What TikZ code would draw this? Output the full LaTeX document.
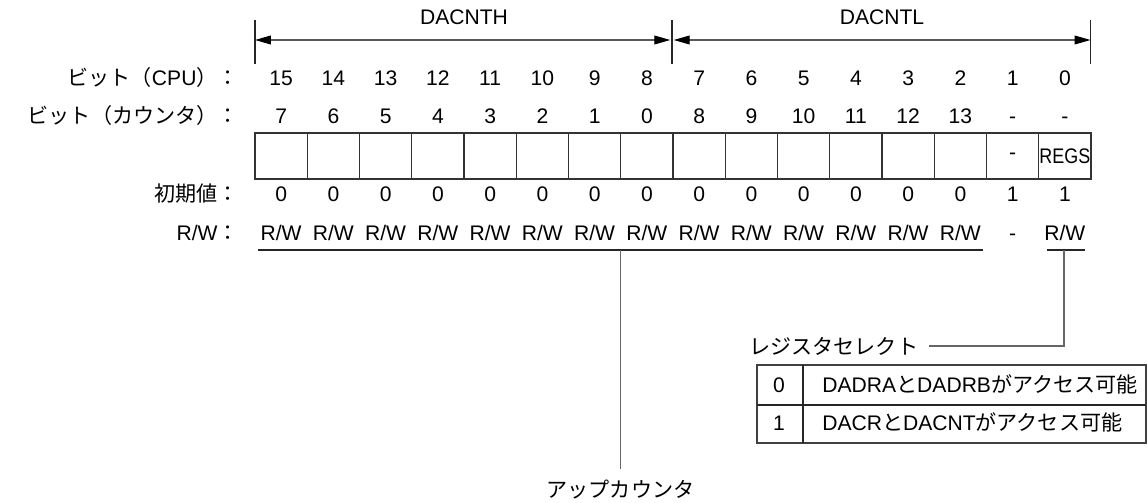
\documentclass[tikz,border=0pt]{standalone}
\usepackage{graphicx}
\usepackage{fontspec}
\setmainfont{Liberation Sans}
\newfontfamily\jpfont{Noto Sans CJK JP}
\usetikzlibrary{arrows.meta}

\begin{document}
\begin{tikzpicture}[
    x=0.02cm, y=-0.02cm,
    txt/.style={font=\fontsize{12}{14}\selectfont, inner sep=0pt, anchor=base},
    lbl/.style={txt, anchor=base east},
    cellbox/.style={draw=black!80, line width=0.6pt, minimum width=1.045cm, minimum height=0.92cm, inner sep=0pt},
    dimarr/.style={{Triangle[length=9pt,width=5pt,color=black]}-{Triangle[length=9pt,width=5pt,color=black]}, draw=black!65, line width=0.6pt},
    tickline/.style={draw=black!85, line width=0.6pt},
    uline/.style={draw=black!85, line width=0.6pt},
    leader/.style={draw=black!60, line width=0.6pt},
    tabframe/.style={draw=black!75, line width=0.9pt},
    tabline/.style={draw=black!85, line width=0.6pt},
]
\useasboundingbox (0,0) rectangle (1147,503);

% ============ register names with their spans ============
\coordinate (hl) at (255,40);
\coordinate (hm) at (672,40);
\coordinate (hr) at (1090.5,40);

\draw[tickline] (255,20) -- (255,64);
\draw[tickline] (672,20) -- (672,64);
\draw[tickline] (1090.5,20) -- (1090.5,64);

\draw[dimarr, shorten >=1pt] (hl) -- (hm);
\draw[dimarr, shorten <=1pt] (hm) -- (hr);

\node[txt] (dacnth) at (464,25) {DACNTH};
\node[txt] (dacntl) at (882,25) {DACNTL};

% ============ row labels ============
\node[lbl] (l_cpu) at (239,86) {{\jpfont ビット（}CPU{\jpfont ）：}};
\node[lbl] (l_cnt) at (239,124) {\jpfont ビット（カウンタ）：};
\node[lbl] (l_ini) at (239,202) {\jpfont 初期値：};
\node[lbl] (l_rw) at (239,241) {R/W{\jpfont ：}};

% ============ bit cells ============
\foreach \i in {0,...,15} {
    \pgfmathsetmacro{\cx}{281.125+52.25*\i}
    \pgfmathtruncatemacro{\cpu}{15-\i}
    \node[cellbox] (c\i) at (\cx,156) {};
    \node[txt] (cpu\i) at (\cx,86) {\cpu};
}
\foreach \v [count=\i from 0] in {7,6,5,4,3,2,1,0,8,9,10,11,12,13,-,-}
    \node[txt] (cnt\i) at ({281.125+52.25*\i},124) {\v};
\foreach \v [count=\i from 0] in {0,0,0,0,0,0,0,0,0,0,0,0,0,0,1,1}
    \node[txt] (ini\i) at ({281.125+52.25*\i},202) {\v};
\foreach \v [count=\i from 0] in {R/W,R/W,R/W,R/W,R/W,R/W,R/W,R/W,R/W,R/W,R/W,R/W,R/W,R/W,-,R/W}
    \node[txt] (rw\i) at ({281.125+52.25*\i},241) {\v};

\node[font=\fontsize{12}{14}\selectfont, inner sep=0pt] (c14txt) at (c14) {-};
\node[font=\fontsize{12}{14}\selectfont, inner sep=0pt] (regsbit) at (c15) {\scalebox{0.85}[1]{REGS}};

% ============ underlines and leaders ============
\coordinate (ucA) at (258,250);
\coordinate (ucB) at (983,250);
\coordinate (ucM) at (620.5,250);
\coordinate (rsA) at (1047,250);
\coordinate (rsB) at (1085,250);
\coordinate (rsM) at (1064,250);

\draw[uline] (ucA) -- (ucB);
\draw[uline] (rsA) -- (rsB);

\node[txt, anchor=north, inner ysep=6pt, font=\fontsize{12}{14}\selectfont\jpfont] (upcnt) at (620.5,469) {アップカウンタ};
\draw[leader] (ucM) -- (upcnt.north);

\node[txt, anchor=east, inner xsep=6pt, font=\fontsize{12}{14}\selectfont\jpfont] (regsel) at (929,346) {レジスタセレクト};
\draw[leader] (rsM) |- (regsel.east);

% ============ select table ============
\coordinate (tNW) at (757,365);
\coordinate (tSE) at (1146,443);
\draw[tabframe] (tNW) rectangle (tSE);
\draw[tabline] (757,405) -- (1146,405);
\draw[tabline] (803,365) -- (803,443);

\node[txt] (t0) at (779,392.5) {0};
\node[txt] (t1) at (779,431) {1};
\node[txt, anchor=base west] (t0d) at (822,392.5) {DADRA{\jpfont と}DADRB{\jpfont がアクセス可能}};
\node[txt, anchor=base west] (t1d) at (822,431) {DACR{\jpfont と}DACNT{\jpfont がアクセス可能}};

\end{tikzpicture}
\end{document}
